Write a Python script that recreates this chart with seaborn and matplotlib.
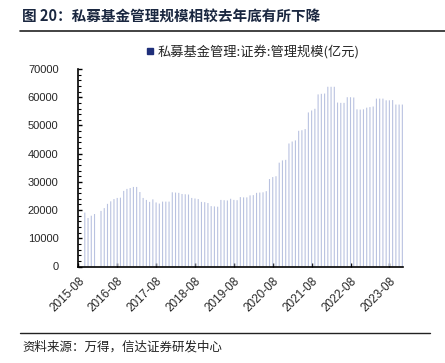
import numpy as np
import pandas as pd
import matplotlib
matplotlib.use("Agg")
import matplotlib.pyplot as plt
from matplotlib.lines import Line2D
from matplotlib.ticker import MultipleLocator
import seaborn as sns

# monthly axis 2015-08 .. 2023-12, values in 亿元 (NaN = no data)
months = pd.date_range("2015-08-01", "2023-12-01", freq="MS").strftime("%Y-%m").tolist()
vals_2015 = [np.nan, np.nan, 19100, 17200, 18000]
vals_2016 = [18600, np.nan, 19700, 20700, 22200, 23100, 23900, 24300, 24400, 26800, 27500, 27800]
vals_2017 = [28200, 28200, 26400, 24300, 23600, 22900, 23800, 22700, 22300, 23000, 23000, 23000]
vals_2018 = [26300, 26200, 26100, 25700, 25600, 25500, 24300, 24100, 23900, 22900, 22800, 22500]
vals_2019 = [21400, 21300, 21200, 23600, 23500, 23400, 24000, 23600, 23500, 24600, 24500, 24500]
vals_2020 = [25200, 25300, 26100, 26200, 26300, 26700, 31000, 31700, 32000, 36800, 37600, 37800]
vals_2021 = [43600, 44300, 44700, 48100, 48300, 48700, 54600, 55300, 55900, 61000, 61200, 61300]
vals_2022 = [63700, 63700, 63700, 58100, 58000, 58000, 60000, 60000, 59900, 55700, 55600, 55700]
vals_2023 = [56300, 56500, 56700, 59500, 59500, 59500, 58900, 58900, 59000, 57400, 57400, 57400]
values = vals_2015 + vals_2016 + vals_2017 + vals_2018 + vals_2019 + vals_2020 + vals_2021 + vals_2022 + vals_2023
tick_labels = ["2015-08", "2016-08", "2017-08", "2018-08", "2019-08",
               "2020-08", "2021-08", "2022-08", "2023-08"]

title = "图 20：私募基金管理规模相较去年底有所下降"
series_name = "私募基金管理:证券:管理规模(亿元)"
source = "资料来源：万得，信达证券研发中心"

sns.set_theme(style="white")
plt.rcParams["font.family"] = ["Noto Sans CJK SC", "DejaVu Sans"]

df = pd.DataFrame({"month": months, "value": values})

fig = plt.figure(figsize=(4.45, 3.63), dpi=100)
ax = fig.add_axes([78 / 445, 1 - 266.5 / 363, 325 / 445, 197.5 / 363])

sns.barplot(data=df, x="month", y="value", order=months, color="#b9c2e0",
            width=0.34, errorbar=None, saturation=1, linewidth=0, ax=ax)
# thin bars: let them render anti-aliased instead of snapping to pixel grid
for p in ax.patches:
    p.set_snap(False)
    p.set_antialiased(True)

ax.set_xlim(-0.1, len(months) - 0.8)
ax.set_ylim(0, 70000)
ax.set_xlabel("")
ax.set_ylabel("")

tick_pos = [months.index(t) for t in tick_labels]
ax.set_xticks(tick_pos)
ax.set_xticklabels(tick_labels, rotation=45, ha="right", rotation_mode="anchor",
                   family=["Liberation Sans"], fontsize=8.5)
ax.yaxis.set_major_locator(MultipleLocator(10000))
ax.yaxis.set_minor_locator(MultipleLocator(2000))
for lab in ax.get_yticklabels():
    lab.set_family(["Liberation Sans"])
    lab.set_fontsize(8)
ax.tick_params(axis="both", which="major", direction="in", length=3, width=1,
               color="black", left=True, bottom=True)
ax.tick_params(axis="y", which="minor", direction="in", length=2, width=0.8,
               color="black", left=True)
ax.tick_params(axis="y", pad=14)
ax.tick_params(axis="x", pad=6)

for side in ["top", "right"]:
    ax.spines[side].set_visible(False)
for side in ["left", "bottom"]:
    ax.spines[side].set_color("black")
    ax.spines[side].set_linewidth(1.2)

handle = Line2D([], [], marker="s", linestyle="none", color="#1f2f7a", markersize=4)
ax.legend([handle], [series_name], loc="center left", frameon=False,
          bbox_to_anchor=(146 / 445, 1 - 52 / 363), bbox_transform=fig.transFigure,
          borderpad=0, borderaxespad=0, handlelength=0.6, handletextpad=0.3,
          prop={"size": 9.5})

fig.text(22 / 445, 1 - 16 / 363, title, fontsize=10.5, fontweight="bold",
         color="#1a2740", va="center", ha="left")
fig.add_artist(Line2D([20 / 445, 1.0], [1 - 30.5 / 363] * 2, transform=fig.transFigure,
                      color="#222222", linewidth=1.2))
fig.add_artist(Line2D([20 / 445, 430 / 445], [1 - 332.5 / 363] * 2, transform=fig.transFigure,
                      color="#222222", linewidth=1.0))
fig.text(22 / 445, 1 - 347 / 363, source, fontsize=9, color="#222222",
         va="center", ha="left")

fig.savefig("out.png", dpi=100, facecolor="white")
